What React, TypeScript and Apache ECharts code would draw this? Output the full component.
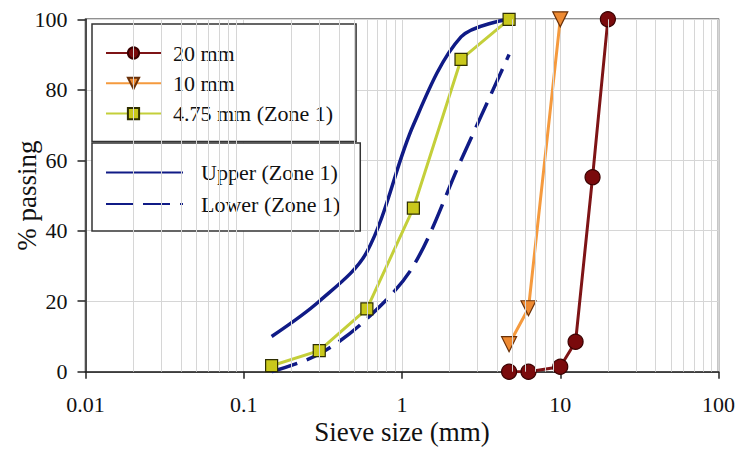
import React, { useEffect, useRef } from "react";
import * as echarts from "echarts";

// Sieve sizes (mm) and % passing
const sieve20 = [4.75, 6.3, 10, 12.5, 16, 20];
const pass20 = [0, 0, 1.4, 8.5, 55.2, 100];
const sieve10 = [4.75, 6.3, 10];
const pass10 = [7.8, 18, 100];
const sieve475 = [0.15, 0.3, 0.6, 1.18, 2.36, 4.75];
const pass475 = [1.7, 6, 17.8, 46.4, 88.6, 100];
const zoneSieves = [0.15, 0.3, 0.6, 1.18, 2.36, 4.75];
const upperZone1 = [10, 20, 34, 70, 95, 100];
const lowerZone1 = [0, 5, 15, 30, 60, 90];
const minorGridValues = [
  0.02, 0.03, 0.04, 0.05, 0.06, 0.07, 0.08, 0.09,
  0.2, 0.3, 0.4, 0.5, 0.6, 0.7, 0.8, 0.9,
  2, 3, 4, 5, 6, 7, 8, 9,
  20, 30, 40, 50, 60, 70, 80, 90,
];
const legendTop = ["20 mm", "10 mm", "4.75 mm (Zone 1)"];
const legendBottom = ["Upper (Zone 1)", "Lower (Zone 1)"];

const FONT = "Liberation Serif";

const zip = (xs: number[], ys: number[]) => xs.map((x, i) => [x, ys[i]]);

export default function App() {
  const ref = useRef<HTMLDivElement>(null);
  useEffect(() => {
    if (!ref.current) return;
    const chart = echarts.init(ref.current, undefined, { renderer: "svg" });
    const gridColor = "#d6d6d6";
    chart.setOption({
      animation: false,
      backgroundColor: "#fff",
      grid: {
        left: 85.5,
        right: 20.5,
        top: 19.3,
        bottom: 78.3,
        containLabel: false,
        outerBoundsMode: "none",
        show: true,
        borderColor: "#222",
        borderWidth: 1.5,
        backgroundColor: "transparent",
      },
      xAxis: {
        type: "log",
        logBase: 10,
        min: 0.01,
        max: 100,
        name: "Sieve size (mm)",
        nameLocation: "middle",
        nameGap: 47,
        nameMoveOverlap: false,
        nameTextStyle: { fontFamily: FONT, fontSize: 27, color: "#111" },
        axisLine: { show: true, lineStyle: { color: "#222", width: 1.5 } },
        axisTick: { show: true, inside: false, length: 7, lineStyle: { color: "#222", width: 1.5 } },
        axisLabel: {
          fontFamily: FONT,
          fontSize: 22,
          color: "#111",
          margin: 22,
          formatter: (v: number) => String(Number(v.toPrecision(3))),
        },
        splitLine: { show: true, lineStyle: { color: gridColor, width: 1 } },
      },
      yAxis: {
        type: "value",
        min: 0,
        max: 100,
        interval: 20,
        name: "% passing",
        nameLocation: "middle",
        nameGap: 45,
        nameMoveOverlap: false,
        nameTextStyle: { fontFamily: FONT, fontSize: 27, color: "#111" },
        axisLine: { show: true, lineStyle: { color: "#222", width: 1.5 } },
        axisTick: { show: true, inside: false, length: 8, lineStyle: { color: "#222", width: 1.5 } },
        axisLabel: { fontFamily: FONT, fontSize: 22, color: "#111", margin: 18 },
        splitLine: { show: true, lineStyle: { color: gridColor, width: 1 } },
      },
      legend: [
        {
          data: legendTop,
          orient: "vertical",
          left: 92,
          top: 24,
          padding: [18, 23, 17, 13],
          itemWidth: 55,
          itemHeight: 14,
          itemGap: 8.3,
          borderColor: "#333",
          borderWidth: 1.5,
          backgroundColor: "#fff",
          textStyle: { fontFamily: FONT, fontSize: 22, color: "#111", lineHeight: 21, padding: [0, 0, 0, 7] },
        },
        {
          data: legendBottom,
          orient: "vertical",
          left: 92,
          top: 143,
          padding: [18.5, 20, 16, 13],
          itemWidth: 77,
          itemHeight: 14,
          itemGap: 9.5,
          borderColor: "#333",
          borderWidth: 1.5,
          backgroundColor: "#fff",
          itemStyle: { opacity: 0 },
          textStyle: { fontFamily: FONT, fontSize: 22, color: "#111", lineHeight: 21, padding: [0, 0, 0, 13] },
        },
      ],
      series: [
        {
          name: "minor-grid",
          type: "line",
          data: [],
          z: 1,
          silent: true,
          markLine: {
            silent: true,
            symbol: ["none", "none"],
            label: { show: false },
            lineStyle: { color: gridColor, type: "solid", width: 1 },
            emphasis: { disabled: true },
            data: minorGridValues.map((v) => ({ xAxis: v })),
            animation: false,
          },
        },
        {
          name: "Upper (Zone 1)",
          type: "line",
          data: zip(zoneSieves, upperZone1),
          smooth: 0.33,
          symbol: "none",
          z: 2,
          lineStyle: { color: "#101b86", width: 3.5 },
          itemStyle: { color: "#101b86" },
        },
        {
          name: "Lower (Zone 1)",
          type: "line",
          data: zip(zoneSieves, lowerZone1),
          smooth: 0.33,
          symbol: "none",
          z: 2,
          lineStyle: { color: "#101b86", width: 3.5, type: [27, 10] },
          itemStyle: { color: "#101b86" },
        },
        {
          name: "4.75 mm (Zone 1)",
          type: "line",
          data: zip(sieve475, pass475),
          symbol: "rect",
          symbolSize: 12,
          z: 3,
          lineStyle: { color: "#c4cf3a", width: 3 },
          itemStyle: { color: "#c9c81c", borderColor: "#2e2e00", borderWidth: 1.2 },
        },
        {
          name: "10 mm",
          type: "line",
          data: zip(sieve10, pass10),
          symbol: "triangle",
          symbolRotate: 180,
          symbolSize: 15,
          z: 3,
          lineStyle: { color: "#f59a3e", width: 3 },
          itemStyle: { color: "#ee8a32", borderColor: "#6a3008", borderWidth: 1.2 },
        },
        {
          name: "20 mm",
          type: "line",
          data: zip(sieve20, pass20),
          symbol: "circle",
          symbolSize: 15,
          z: 3,
          lineStyle: { color: "#7e1416", width: 3 },
          itemStyle: { color: "#7a0a0c", borderColor: "#3a0000", borderWidth: 1.2 },
        },
      ],
    });
    return () => chart.dispose();
  }, []);
  return (
    <div
      ref={ref}
      style={{ position: "fixed", left: 0, top: 0, width: 739, height: 450 }}
    />
  );
}
